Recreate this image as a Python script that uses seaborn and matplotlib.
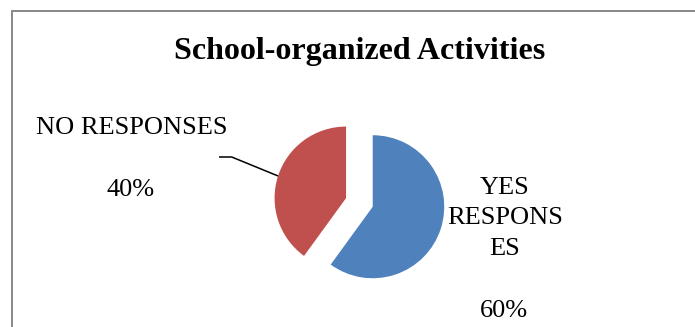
import numpy as np
import matplotlib
matplotlib.use("Agg")
import matplotlib.pyplot as plt
from matplotlib.patches import Rectangle
import seaborn as sns

# Survey answers
categories = ["YES RESPONSES", "NO RESPONSES"]
shares = [60, 40]
slice_colors = ["#4F81BD", "#C0504D"]
yes_label_lines = ["YES", "RESPONS", "ES"]
no_label = "NO RESPONSES"
title_text = "School-organized Activities"

W, H = 695, 327

sns.set_theme(style="white")
plt.rcParams["font.family"] = ["Liberation Serif", "DejaVu Serif"]

fig = plt.figure(figsize=(W / 100, H / 100), dpi=100)
ax = fig.add_axes([0, 0, 1, 1])


def py(y):
    """Convert a top-down pixel row into the axes' bottom-up units."""
    return H - y


# Pie geometry (axes units are pixels)
cx, cy, radius = 359.4, py(202.4), 71.5
explode_frac = 0.196

wedges, _ = ax.pie(
    shares,
    colors=slice_colors,
    startangle=90,
    counterclock=False,
    explode=[explode_frac * radius] * len(shares),
    radius=radius,
    center=(cx, cy),
    wedgeprops=dict(linewidth=0),
)
ax.set_xlim(0, W)
ax.set_ylim(0, H)
ax.set_aspect("auto")
ax.axis("off")

# Chart-area border
ax.add_patch(Rectangle((12, py(345)), 720, 345 - 10.8, fill=False,
                       edgecolor="#878787", linewidth=1.4, clip_on=False))

# Title
ax.text(360, py(59), title_text, ha="center", va="baseline",
        fontsize=23, fontweight="bold", color="black")

label_size = 19
pct = {c: f"{v}%" for c, v in zip(categories, shares)}

# NO label with leader line to the red slice
ax.text(131.5, py(134), no_label, ha="center", va="baseline",
        fontsize=label_size, color="black")
ax.text(130.5, py(196), pct["NO RESPONSES"], ha="center", va="baseline",
        fontsize=label_size, color="black")
w_no = wedges[1]
mid = np.deg2rad((w_no.theta1 + w_no.theta2) / 2)
ex = w_no.center[0] + w_no.r * np.cos(mid)
ey = w_no.center[1] + w_no.r * np.sin(mid)
ax.plot([219, 231.7, ex], [py(157), py(157), ey], color="black", lw=1.1,
        solid_capstyle="butt")

# YES label
for line, base in zip(yes_label_lines, [194, 224, 255]):
    ax.text(505, py(base), line, ha="center", va="baseline",
            fontsize=label_size, color="black")
ax.text(503.5, py(317), pct["YES RESPONSES"], ha="center", va="baseline",
        fontsize=label_size, color="black")

fig.savefig("out.png", dpi=100, facecolor="white")
